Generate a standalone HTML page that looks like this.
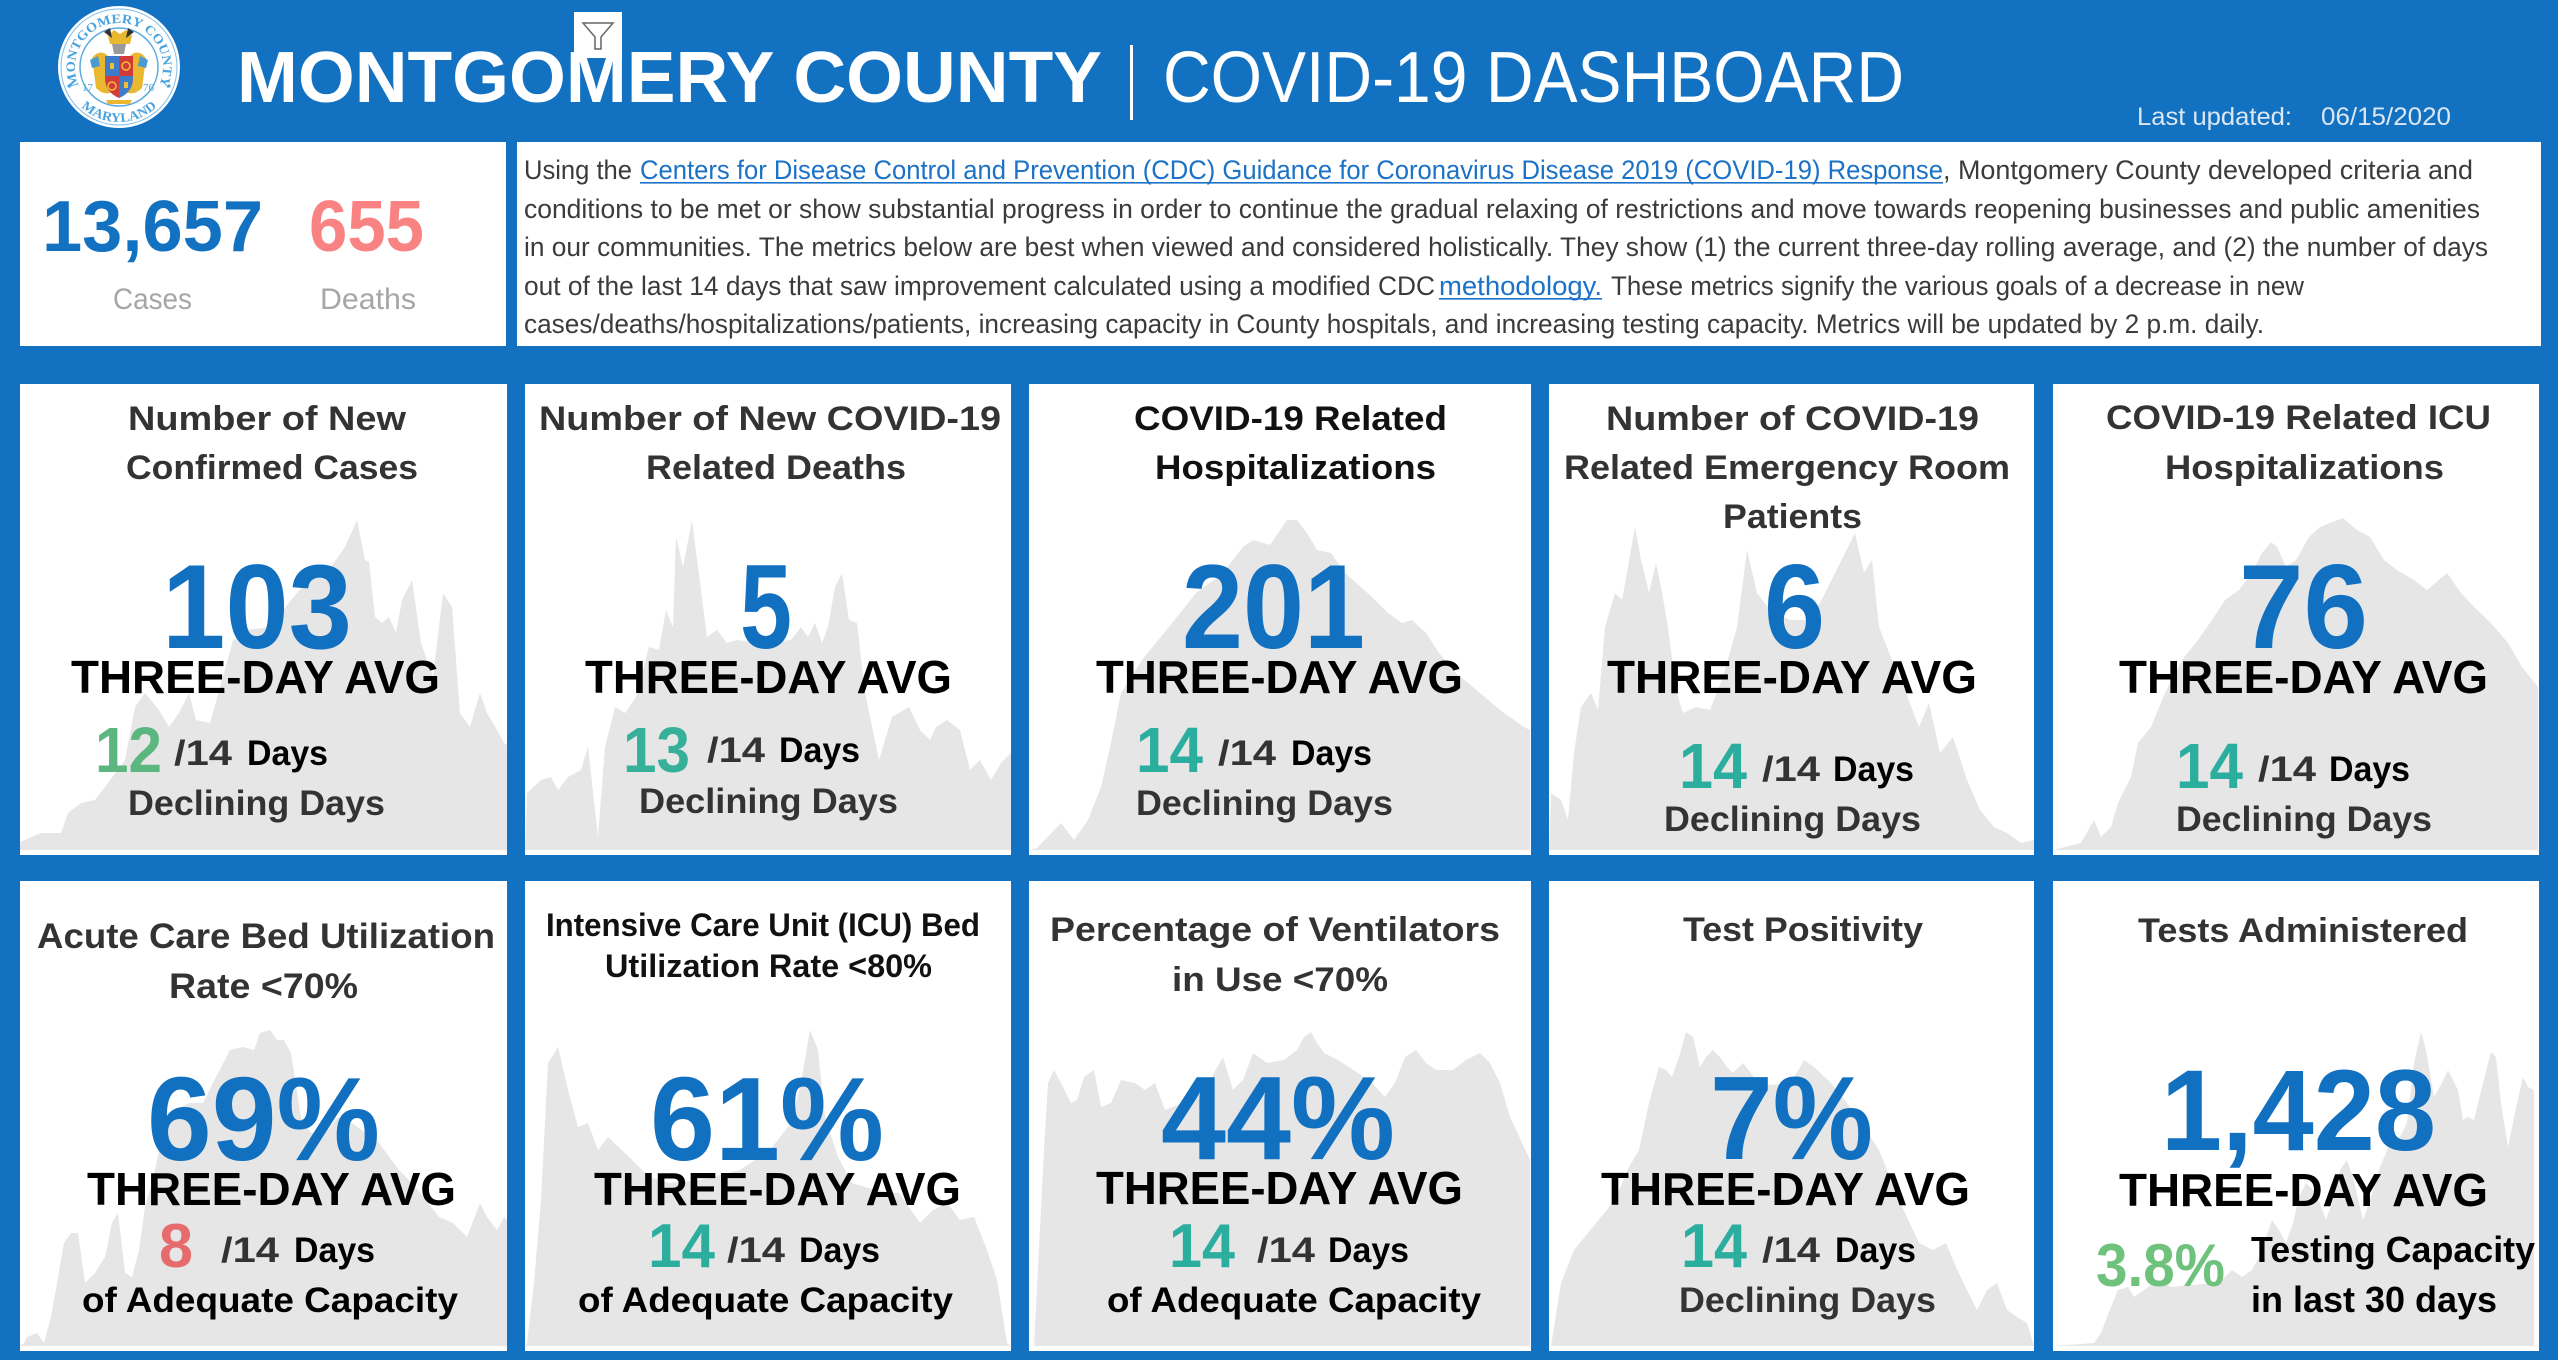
<!DOCTYPE html>
<html><head><meta charset="utf-8"><style>
html,body{margin:0;padding:0;background:#1271c0;}
svg{display:block;}
text{font-family:"Liberation Sans",Arial,sans-serif;}
.b{font-weight:bold;}
</style></head><body>
<svg width="2558" height="1360" viewBox="0 0 2558 1360" xmlns="http://www.w3.org/2000/svg">
<rect x="0" y="0" width="2558" height="1360" fill="#1271c0"/>

<!-- Logo -->
<circle cx="119" cy="67" r="61" fill="#ffffff"/>
<circle cx="119" cy="67" r="58" fill="none" stroke="#7fbde8" stroke-width="1"/>
<circle cx="119" cy="67" r="39" fill="none" stroke="#5aaade" stroke-width="1.5"/>
<defs>
<path id="arcTop" d="M 80.9,89 A 44,44 0 1 1 157.1,89"/>
<path id="arcBot" d="M 71.4,94.5 A 55,55 0 0 0 166.6,94.5"/>
</defs>
<text font-size="13" font-weight="bold" fill="#4aa3df" style="font-family:'Liberation Serif',serif"><textPath href="#arcTop" startOffset="4" textLength="176" lengthAdjust="spacingAndGlyphs">MONTGOMERY COUNTY</textPath></text>
<text font-size="13" font-weight="bold" fill="#4aa3df" style="font-family:'Liberation Serif',serif"><textPath href="#arcBot" startOffset="16" textLength="83" lengthAdjust="spacingAndGlyphs">MARYLAND</textPath></text>
<text x="82" y="91" font-size="11" fill="#4aa3df" style="font-family:'Liberation Serif',serif">17</text>
<text x="143" y="91" font-size="11" fill="#4aa3df" style="font-family:'Liberation Serif',serif">76</text>
<circle cx="69" cy="86" r="1.6" fill="#4aa3df"/>
<circle cx="169" cy="86" r="1.6" fill="#4aa3df"/>
<!-- crest -->
<path d="M92,58 Q100,48 108,56 L112,92 Q104,96 96,88 Z" fill="#e9b730"/>
<path d="M146,58 Q138,48 130,56 L126,92 Q134,96 142,88 Z" fill="#e9b730"/>
<path d="M90,60 L98,56 L100,66 L92,68 Z" fill="#4a9ad4"/>
<path d="M148,60 L140,56 L138,66 L146,68 Z" fill="#4a9ad4"/>
<path d="M108,36 L114,30 L120,34 L126,30 L132,36 L130,44 L110,44 Z" fill="#e9b730"/>
<path d="M112,44 L126,44 L124,54 L114,54 Z" fill="#9a9a9a"/>
<path d="M104,32 L110,28 L112,38 Z" fill="#333"/>
<path d="M134,32 L128,28 L126,38 Z" fill="#333"/>
<path d="M105,56 L133,56 L133,78 Q133,92 119,98 Q105,92 105,78 Z" fill="#d33b3b"/>
<rect x="105" y="56" width="14" height="20" fill="#3d7cc9"/>
<path d="M119,76 L133,76 L133,78 Q133,92 119,98 Z" fill="#3d7cc9"/>
<circle cx="126" cy="66" r="4" fill="none" stroke="#f0c030" stroke-width="1.5"/>
<circle cx="112" cy="86" r="4" fill="none" stroke="#f0c030" stroke-width="1.5"/>
<rect x="110" y="63" width="4" height="6" fill="#f0c030"/>
<rect x="124" y="82" width="4" height="6" fill="#f0c030"/>
<path d="M106,100 L132,100 L130,104 L108,104 Z" fill="#e9b730"/>

<!-- Header title -->
<text x="237" y="102" font-size="72" class="b" fill="#ffffff" textLength="865" lengthAdjust="spacingAndGlyphs">MONTGOMERY COUNTY</text>
<rect x="1130" y="45" width="3" height="75" fill="#ffffff"/>
<text x="1163" y="102" font-size="72" fill="#ffffff" textLength="741" lengthAdjust="spacingAndGlyphs">COVID-19 DASHBOARD</text>
<text x="2137" y="125" font-size="25" fill="#dce7f2" textLength="155" lengthAdjust="spacingAndGlyphs">Last updated:</text>
<text x="2321" y="125" font-size="25" fill="#dce7f2" textLength="130" lengthAdjust="spacingAndGlyphs">06/15/2020</text>

<!-- filter icon -->
<rect x="574" y="12" width="48" height="46" fill="#ffffff"/>
<path d="M583,23 L613,23 L601,37 L601,49 L595,49 L595,37 Z" fill="none" stroke="#666" stroke-width="1.5"/>

<!-- Summary box -->
<rect x="20" y="142" width="486" height="204" fill="#ffffff"/>
<text x="42" y="251" font-size="72" class="b" fill="#1271c0" textLength="221" lengthAdjust="spacingAndGlyphs">13,657</text>
<text x="309" y="251" font-size="72" class="b" fill="#f98383" textLength="115" lengthAdjust="spacingAndGlyphs">655</text>
<text x="113" y="309" font-size="30" fill="#a6a6a6" textLength="79" lengthAdjust="spacingAndGlyphs">Cases</text>
<text x="320" y="309" font-size="30" fill="#a6a6a6" textLength="96" lengthAdjust="spacingAndGlyphs">Deaths</text>

<!-- Paragraph box -->
<rect x="517" y="142" width="2024" height="204" fill="#ffffff"/>
<g font-size="27" fill="#3b3b3b">
<text x="524" y="179" textLength="108" lengthAdjust="spacingAndGlyphs">Using the</text>
<text x="640" y="179" fill="#1b72c6" textLength="1303" lengthAdjust="spacingAndGlyphs">Centers for Disease Control and Prevention (CDC) Guidance for Coronavirus Disease 2019 (COVID-19) Response</text>
<text x="1943" y="179" textLength="530" lengthAdjust="spacingAndGlyphs">, Montgomery County developed criteria and</text>
<text x="524" y="218" textLength="1956" lengthAdjust="spacingAndGlyphs">conditions to be met or show substantial progress in order to continue the gradual relaxing of restrictions and move towards reopening businesses and public amenities</text>
<text x="524" y="256" textLength="1964" lengthAdjust="spacingAndGlyphs">in our communities. The metrics below are best when viewed and considered holistically. They show (1) the current three-day rolling average, and (2) the number of days</text>
<text x="524" y="295" textLength="911" lengthAdjust="spacingAndGlyphs">out of the last 14 days that saw improvement calculated using a modified CDC</text>
<text x="1439" y="295" fill="#1b72c6" textLength="163" lengthAdjust="spacingAndGlyphs">methodology.</text>
<text x="1611" y="295" textLength="693" lengthAdjust="spacingAndGlyphs">These metrics signify the various goals of a decrease in new</text>
<text x="524" y="333" textLength="1740" lengthAdjust="spacingAndGlyphs">cases/deaths/hospitalizations/patients, increasing capacity in County hospitals, and increasing testing capacity. Metrics will be updated by 2 p.m. daily.</text>
</g>
<rect x="640" y="182" width="1303" height="1.6" fill="#1b72c6"/>
<rect x="1439" y="298" width="163" height="1.6" fill="#1b72c6"/>

<!-- Cards backgrounds -->
<g fill="#ffffff">
<rect x="20" y="384" width="487" height="471"/>
<rect x="525" y="384" width="486" height="471"/>
<rect x="1029" y="384" width="502" height="471"/>
<rect x="1549" y="384" width="485" height="471"/>
<rect x="2053" y="384" width="486" height="471"/>
<rect x="20" y="881" width="487" height="470"/>
<rect x="525" y="881" width="486" height="470"/>
<rect x="1029" y="881" width="502" height="470"/>
<rect x="1549" y="881" width="485" height="470"/>
<rect x="2053" y="881" width="486" height="470"/>
</g>

<!-- Area charts -->
<g fill="#e6e6e6">
<polygon points="20,850 20,842 41,833 61,833 68,813 81,803 95,800 108,783 125,760 135,707 145,693 159,710 169,727 179,713 189,693 196,720 210,723 223,677 233,640 247,630 270,627 291,600 311,577 331,567 345,547 357,520 365,560 369,562 375,617 382,623 389,617 396,633 402,600 412,580 421,643 433,677 443,593 452,607 460,713 470,727 480,693 487,713 497,730 504,743 507,745 507,850"/>
<polygon points="525,850 527,793 541,780 551,777 558,790 568,777 581,770 588,747 598,837 605,747 615,707 625,713 636,697 649,647 659,650 666,610 673,627 676,537 683,567 692,520 698,567 707,637 717,630 727,643 737,640 757,643 791,640 801,627 808,637 815,623 822,643 828,627 835,587 842,573 849,620 857,623 865,693 879,760 892,717 909,707 920,730 930,740 936,727 947,720 960,730 970,770 980,760 991,780 1001,763 1011,753 1011,850"/>
<polygon points="1029,850 1037,848 1061,823 1074,840 1088,820 1101,787 1111,743 1121,693 1142,660 1169,627 1196,593 1223,573 1243,547 1253,540 1270,545 1287,520 1297,520 1307,533 1317,550 1331,553 1345,573 1372,597 1388,613 1402,623 1412,620 1426,633 1439,653 1456,673 1480,693 1500,710 1524,727 1530,730 1530,850"/>
<polygon points="1549,850 1551,793 1561,800 1568,820 1574,753 1581,707 1591,693 1598,710 1605,627 1615,593 1622,600 1628,567 1635,527 1641,560 1649,593 1656,563 1661,587 1668,627 1676,690 1683,713 1696,707 1710,710 1723,677 1737,627 1747,550 1757,593 1770,610 1790,620 1811,620 1825,593 1838,567 1848,547 1855,533 1864,573 1872,560 1879,627 1892,660 1906,693 1919,727 1929,703 1940,753 1953,737 1967,780 1980,810 1994,827 2007,833 2021,843 2034,840 2034,850"/>
<polygon points="2053,850 2081,843 2094,820 2101,837 2111,827 2118,803 2131,777 2138,743 2151,727 2165,693 2182,660 2198,640 2212,620 2225,600 2239,590 2252,573 2262,553 2271,542 2277,547 2286,567 2296,560 2309,537 2320,527 2330,523 2343,518 2357,530 2370,537 2384,560 2397,570 2414,580 2427,590 2447,573 2461,593 2474,607 2491,623 2508,643 2522,667 2538,687 2538,850"/>
<polygon points="20,1346 24,1343 27,1337 37,1333 44,1343 51,1317 57,1283 64,1243 71,1233 78,1233 85,1283 95,1273 105,1257 112,1223 118,1213 125,1273 132,1277 139,1250 145,1207 152,1183 162,1137 176,1110 189,1103 203,1103 216,1077 230,1050 243,1047 254,1050 260,1033 270,1030 277,1040 284,1040 291,1053 301,1117 311,1133 325,1133 338,1117 352,1123 379,1143 399,1170 412,1183 426,1200 439,1217 453,1223 467,1237 480,1203 487,1217 497,1230 504,1217 507,1220 507,1346"/>
<polygon points="525,1346 527,1343 534,1283 541,1200 548,1063 558,1047 568,1090 578,1127 588,1123 598,1150 608,1137 629,1157 649,1177 669,1183 700,1180 740,1170 770,1150 791,1123 801,1083 810,1030 818,1050 825,1117 838,1157 852,1183 875,1190 899,1193 920,1223 933,1210 947,1203 960,1220 974,1217 987,1250 997,1280 1007,1343 1011,1346"/>
<polygon points="1029,1346 1034,1346 1044,1150 1048,1083 1054,1070 1061,1083 1071,1103 1077,1100 1084,1077 1094,1070 1101,1107 1111,1103 1121,1080 1135,1083 1145,1090 1155,1083 1165,1110 1190,1100 1210,1080 1223,1057 1233,1090 1243,1080 1253,1053 1267,1063 1284,1060 1297,1050 1304,1037 1311,1032 1317,1043 1324,1053 1338,1060 1358,1073 1372,1083 1385,1097 1395,1083 1405,1057 1416,1050 1426,1063 1436,1070 1453,1070 1466,1060 1480,1053 1490,1063 1500,1083 1510,1117 1524,1147 1530,1160 1530,1346"/>
<polygon points="1549,1346 1551,1346 1561,1283 1574,1250 1588,1233 1601,1217 1615,1200 1629,1167 1639,1150 1649,1103 1659,1067 1666,1070 1672,1077 1679,1057 1686,1032 1693,1037 1700,1067 1706,1057 1713,1050 1720,1057 1727,1067 1733,1073 1743,1063 1754,1077 1770,1085 1791,1083 1804,1060 1814,1067 1831,1083 1858,1117 1879,1150 1899,1200 1919,1243 1933,1250 1946,1243 1956,1267 1967,1290 1977,1310 1987,1290 1997,1283 2007,1310 2017,1317 2027,1323 2034,1346"/>
<polygon points="2053,1346 2094,1343 2101,1333 2111,1307 2118,1290 2128,1287 2134,1297 2144,1290 2158,1280 2171,1287 2190,1285 2219,1283 2232,1270 2242,1277 2252,1270 2259,1257 2266,1237 2272,1220 2279,1230 2286,1243 2293,1223 2299,1197 2306,1183 2316,1193 2326,1220 2333,1200 2340,1170 2347,1160 2353,1177 2363,1220 2370,1200 2380,1167 2390,1143 2400,1137 2407,1123 2414,1063 2421,1032 2426,1050 2434,1097 2441,1085 2448,1070 2458,1090 2463,1120 2468,1117 2474,1120 2483,1083 2491,1052 2496,1057 2501,1103 2508,1147 2515,1113 2523,1077 2528,1087 2534,1090 2534,1346"/>
</g>

<!-- ROW 1 TEXT -->
<g class="b">
<!-- card 1 -->
<text x="128" y="430" font-size="34" fill="#333" textLength="278" lengthAdjust="spacingAndGlyphs">Number of New</text>
<text x="126" y="479" font-size="34" fill="#333" textLength="292" lengthAdjust="spacingAndGlyphs">Confirmed Cases</text>
<text x="162" y="648" font-size="120" fill="#1170c0" textLength="190" lengthAdjust="spacingAndGlyphs">103</text>
<text x="71" y="693" font-size="46" fill="#000" textLength="369" lengthAdjust="spacingAndGlyphs">THREE-DAY AVG</text>
<text x="95" y="772" font-size="64" fill="#5bb67f" textLength="67" lengthAdjust="spacingAndGlyphs">12</text>
<text x="174" y="765" font-size="35" fill="#333" textLength="58" lengthAdjust="spacingAndGlyphs">/14</text>
<text x="247" y="765" font-size="35" fill="#000" textLength="81" lengthAdjust="spacingAndGlyphs">Days</text>
<text x="128" y="815" font-size="35" fill="#333" textLength="257" lengthAdjust="spacingAndGlyphs">Declining Days</text>

<!-- card 2 -->
<text x="539" y="430" font-size="34" fill="#333" textLength="462" lengthAdjust="spacingAndGlyphs">Number of New COVID-19</text>
<text x="646" y="479" font-size="34" fill="#333" textLength="260" lengthAdjust="spacingAndGlyphs">Related Deaths</text>
<text x="740" y="648" font-size="120" fill="#1170c0" textLength="52" lengthAdjust="spacingAndGlyphs">5</text>
<text x="585" y="693" font-size="46" fill="#000" textLength="367" lengthAdjust="spacingAndGlyphs">THREE-DAY AVG</text>
<text x="623" y="772" font-size="64" fill="#37b09a" textLength="67" lengthAdjust="spacingAndGlyphs">13</text>
<text x="707" y="762" font-size="35" fill="#333" textLength="58" lengthAdjust="spacingAndGlyphs">/14</text>
<text x="779" y="762" font-size="35" fill="#000" textLength="81" lengthAdjust="spacingAndGlyphs">Days</text>
<text x="639" y="813" font-size="35" fill="#333" textLength="259" lengthAdjust="spacingAndGlyphs">Declining Days</text>

<!-- card 3 -->
<text x="1134" y="430" font-size="34" fill="#111" textLength="313" lengthAdjust="spacingAndGlyphs">COVID-19 Related</text>
<text x="1155" y="479" font-size="34" fill="#111" textLength="281" lengthAdjust="spacingAndGlyphs">Hospitalizations</text>
<text x="1182" y="648" font-size="120" fill="#1170c0" textLength="183" lengthAdjust="spacingAndGlyphs">201</text>
<text x="1096" y="693" font-size="46" fill="#000" textLength="367" lengthAdjust="spacingAndGlyphs">THREE-DAY AVG</text>
<text x="1136" y="772" font-size="64" fill="#2bae9e" textLength="67" lengthAdjust="spacingAndGlyphs">14</text>
<text x="1218" y="765" font-size="35" fill="#333" textLength="58" lengthAdjust="spacingAndGlyphs">/14</text>
<text x="1291" y="765" font-size="35" fill="#000" textLength="81" lengthAdjust="spacingAndGlyphs">Days</text>
<text x="1136" y="815" font-size="35" fill="#333" textLength="257" lengthAdjust="spacingAndGlyphs">Declining Days</text>

<!-- card 4 -->
<text x="1606" y="430" font-size="34" fill="#333" textLength="373" lengthAdjust="spacingAndGlyphs">Number of COVID-19</text>
<text x="1564" y="479" font-size="34" fill="#333" textLength="446" lengthAdjust="spacingAndGlyphs">Related Emergency Room</text>
<text x="1723" y="528" font-size="34" fill="#333" textLength="139" lengthAdjust="spacingAndGlyphs">Patients</text>
<text x="1764" y="648" font-size="120" fill="#1170c0" textLength="61" lengthAdjust="spacingAndGlyphs">6</text>
<text x="1607" y="693" font-size="46" fill="#000" textLength="370" lengthAdjust="spacingAndGlyphs">THREE-DAY AVG</text>
<text x="1679" y="788" font-size="64" fill="#2bae9e" textLength="68" lengthAdjust="spacingAndGlyphs">14</text>
<text x="1762" y="781" font-size="35" fill="#333" textLength="58" lengthAdjust="spacingAndGlyphs">/14</text>
<text x="1833" y="781" font-size="35" fill="#000" textLength="81" lengthAdjust="spacingAndGlyphs">Days</text>
<text x="1664" y="831" font-size="35" fill="#333" textLength="257" lengthAdjust="spacingAndGlyphs">Declining Days</text>

<!-- card 5 -->
<text x="2106" y="429" font-size="34" fill="#333" textLength="385" lengthAdjust="spacingAndGlyphs">COVID-19 Related ICU</text>
<text x="2165" y="479" font-size="34" fill="#333" textLength="279" lengthAdjust="spacingAndGlyphs">Hospitalizations</text>
<text x="2239" y="648" font-size="120" fill="#1170c0" textLength="129" lengthAdjust="spacingAndGlyphs">76</text>
<text x="2119" y="693" font-size="46" fill="#000" textLength="369" lengthAdjust="spacingAndGlyphs">THREE-DAY AVG</text>
<text x="2176" y="788" font-size="64" fill="#2bae9e" textLength="67" lengthAdjust="spacingAndGlyphs">14</text>
<text x="2258" y="781" font-size="35" fill="#333" textLength="58" lengthAdjust="spacingAndGlyphs">/14</text>
<text x="2329" y="781" font-size="35" fill="#000" textLength="81" lengthAdjust="spacingAndGlyphs">Days</text>
<text x="2176" y="831" font-size="35" fill="#333" textLength="256" lengthAdjust="spacingAndGlyphs">Declining Days</text>

<!-- ROW 2 TEXT -->
<!-- card 1 -->
<text x="37" y="948" font-size="35" fill="#333" textLength="458" lengthAdjust="spacingAndGlyphs">Acute Care Bed Utilization</text>
<text x="169" y="998" font-size="35" fill="#333" textLength="189" lengthAdjust="spacingAndGlyphs">Rate &lt;70%</text>
<text x="147" y="1160" font-size="119" fill="#1170c0" textLength="233" lengthAdjust="spacingAndGlyphs">69%</text>
<text x="87" y="1205" font-size="46" fill="#000" textLength="369" lengthAdjust="spacingAndGlyphs">THREE-DAY AVG</text>
<text x="159" y="1267" font-size="62" fill="#e66b6c" textLength="34" lengthAdjust="spacingAndGlyphs">8</text>
<text x="221" y="1262" font-size="35" fill="#333" textLength="58" lengthAdjust="spacingAndGlyphs">/14</text>
<text x="294" y="1262" font-size="35" fill="#000" textLength="81" lengthAdjust="spacingAndGlyphs">Days</text>
<text x="82" y="1312" font-size="35" fill="#000" textLength="376" lengthAdjust="spacingAndGlyphs">of Adequate Capacity</text>

<!-- card 2 -->
<text x="546" y="936" font-size="32" fill="#111" textLength="434" lengthAdjust="spacingAndGlyphs">Intensive Care Unit (ICU) Bed</text>
<text x="605" y="977" font-size="32" fill="#111" textLength="327" lengthAdjust="spacingAndGlyphs">Utilization Rate &lt;80%</text>
<text x="650" y="1160" font-size="119" fill="#1170c0" textLength="234" lengthAdjust="spacingAndGlyphs">61%</text>
<text x="594" y="1205" font-size="46" fill="#000" textLength="367" lengthAdjust="spacingAndGlyphs">THREE-DAY AVG</text>
<text x="648" y="1267" font-size="62" fill="#2bae9e" textLength="67" lengthAdjust="spacingAndGlyphs">14</text>
<text x="727" y="1262" font-size="35" fill="#333" textLength="58" lengthAdjust="spacingAndGlyphs">/14</text>
<text x="799" y="1262" font-size="35" fill="#000" textLength="81" lengthAdjust="spacingAndGlyphs">Days</text>
<text x="578" y="1312" font-size="35" fill="#000" textLength="375" lengthAdjust="spacingAndGlyphs">of Adequate Capacity</text>

<!-- card 3 -->
<text x="1050" y="941" font-size="34" fill="#333" textLength="450" lengthAdjust="spacingAndGlyphs">Percentage of  Ventilators</text>
<text x="1172" y="991" font-size="34" fill="#333" textLength="216" lengthAdjust="spacingAndGlyphs">in Use &lt;70%</text>
<text x="1161" y="1159" font-size="119" fill="#1170c0" textLength="234" lengthAdjust="spacingAndGlyphs">44%</text>
<text x="1096" y="1204" font-size="46" fill="#000" textLength="367" lengthAdjust="spacingAndGlyphs">THREE-DAY AVG</text>
<text x="1169" y="1267" font-size="62" fill="#2bae9e" textLength="66" lengthAdjust="spacingAndGlyphs">14</text>
<text x="1257" y="1262" font-size="35" fill="#333" textLength="58" lengthAdjust="spacingAndGlyphs">/14</text>
<text x="1328" y="1262" font-size="35" fill="#000" textLength="81" lengthAdjust="spacingAndGlyphs">Days</text>
<text x="1107" y="1312" font-size="35" fill="#000" textLength="374" lengthAdjust="spacingAndGlyphs">of Adequate Capacity</text>

<!-- card 4 -->
<text x="1683" y="941" font-size="34" fill="#333" textLength="240" lengthAdjust="spacingAndGlyphs">Test Positivity</text>
<text x="1710" y="1159" font-size="119" fill="#1170c0" textLength="163" lengthAdjust="spacingAndGlyphs">7%</text>
<text x="1601" y="1205" font-size="46" fill="#000" textLength="369" lengthAdjust="spacingAndGlyphs">THREE-DAY AVG</text>
<text x="1681" y="1267" font-size="62" fill="#2bae9e" textLength="66" lengthAdjust="spacingAndGlyphs">14</text>
<text x="1762" y="1262" font-size="35" fill="#333" textLength="58" lengthAdjust="spacingAndGlyphs">/14</text>
<text x="1835" y="1262" font-size="35" fill="#000" textLength="81" lengthAdjust="spacingAndGlyphs">Days</text>
<text x="1679" y="1312" font-size="35" fill="#333" textLength="257" lengthAdjust="spacingAndGlyphs">Declining Days</text>

<!-- card 5 -->
<text x="2138" y="942" font-size="34" fill="#333" textLength="330" lengthAdjust="spacingAndGlyphs">Tests Administered</text>
<text x="2161" y="1150" font-size="115" fill="#1170c0" textLength="275" lengthAdjust="spacingAndGlyphs">1,428</text>
<text x="2119" y="1206" font-size="46" fill="#000" textLength="369" lengthAdjust="spacingAndGlyphs">THREE-DAY AVG</text>
<text x="2096" y="1286" font-size="60" fill="#6fc27c" style="font-weight:600" textLength="129" lengthAdjust="spacingAndGlyphs">3.8%</text>
<text x="2251" y="1262" font-size="36" fill="#000" textLength="284" lengthAdjust="spacingAndGlyphs">Testing Capacity</text>
<text x="2251" y="1312" font-size="36" fill="#000" textLength="246" lengthAdjust="spacingAndGlyphs">in last 30 days</text>
</g>
</svg>
</body></html>
